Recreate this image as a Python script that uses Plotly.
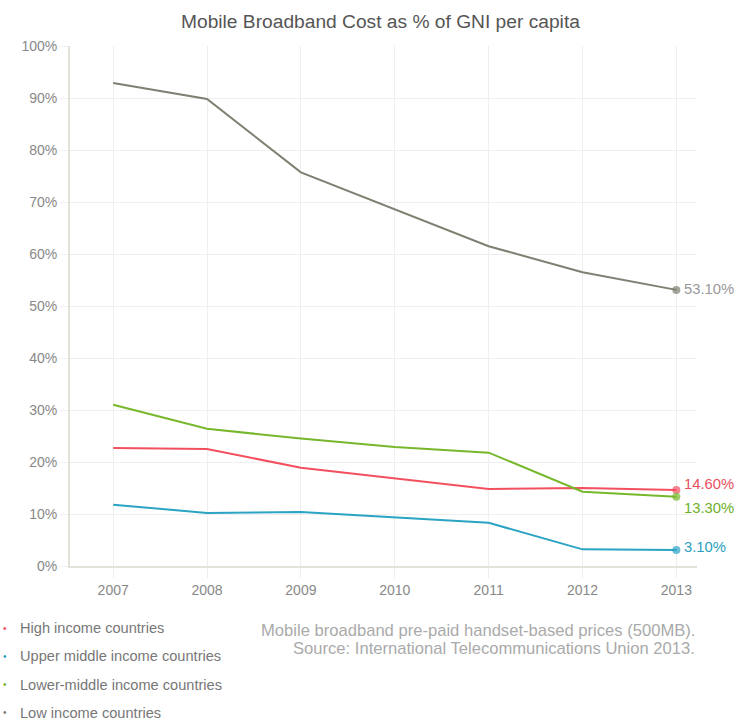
import plotly.graph_objects as go

years = [2007, 2008, 2009, 2010, 2011, 2012, 2013]
series_names = ["High income countries", "Upper middle income countries",
                "Lower-middle income countries", "Low income countries"]
high_income = [22.7, 22.5, 18.9, 16.8, 14.8, 15.0, 14.6]
upper_middle = [11.8, 10.2, 10.4, 9.4, 8.3, 3.2, 3.1]
lower_middle = [31.0, 26.4, 24.5, 22.9, 21.8, 14.3, 13.3]
low_income = [92.9, 89.8, 75.7, 68.6, 61.5, 56.5, 53.1]
end_labels = ["14.60%", "3.10%", "13.30%", "53.10%"]
y_ticks = [0, 10, 20, 30, 40, 50, 60, 70, 80, 90, 100]
title_text = "Mobile Broadband Cost as % of GNI per capita"
source_lines = ["Mobile broadband pre-paid handset-based prices (500MB).",
                "Source: International Telecommunications Union 2013."]

colors = ["#f2505f", "#2ba3c4", "#77b72b", "#7f7f72"]
label_colors = ["#e8505e", "#2a9fc0", "#6fb02a", "#999999"]
label_shift = [6, 3, -11, 1]
values = [high_income, upper_middle, lower_middle, low_income]
FONT = "Liberation Sans, Arial, sans-serif"

fig = go.Figure()
for name, vals, col in zip(series_names, values, colors):
    fig.add_trace(go.Scatter(
        x=years, y=vals, mode="lines+markers", name=name,
        line=dict(color=col, width=2),
        marker=dict(color=col, size=[0] * (len(vals) - 1) + [8], line=dict(width=0)),
        showlegend=False, hoverinfo="x+y", cliponaxis=False))

annotations = []
for vals, lab, lc, ys in zip(values, end_labels, label_colors, label_shift):
    annotations.append(dict(
        x=years[-1], y=vals[-1], xref="x", yref="y", text=lab, showarrow=False,
        xanchor="left", yanchor="middle", xshift=6, yshift=ys,
        font=dict(family=FONT, size=14.8, color=lc)))

# legend as annotations
for i, (name, col) in enumerate(zip(series_names, colors)):
    ypix = 628 + i * 28.3
    annotations.append(dict(
        x=5, y=720 - ypix, xref="paper", yref="paper", text="•", showarrow=False,
        font=dict(family=FONT, size=10, color=col), xanchor="center", yanchor="middle"))
    annotations.append(dict(
        x=18, y=720 - ypix, xref="paper", yref="paper", text=name, showarrow=False,
        font=dict(family=FONT, size=14.6, color="#777777"), xanchor="left", yanchor="middle"))

for i, line in enumerate(source_lines):
    annotations.append(dict(
        x=697, y=720 - (630 + i * 18.5), xref="paper", yref="paper", text=line,
        showarrow=False, xanchor="right", yanchor="middle",
        font=dict(family=FONT, size=16.6, color="#aaaaaa")))

annotations.append(dict(
    x=380, y=720 - 22, xref="paper", yref="paper", text=title_text, showarrow=False,
    xanchor="center", yanchor="middle", font=dict(family=FONT, size=19.2, color="#555555")))

# convert pixel paper coords to fractions
W, H = 738, 720
ml, mr, mt, mb = 70, 41, 46, 154
pw, ph = W - ml - mr, H - mt - mb
for a in annotations:
    if a["xref"] == "paper":
        a["x"] = (a["x"] - ml) / pw
        a["y"] = (a["y"] - mb) / ph

fig.update_layout(
    width=W, height=H,
    margin=dict(l=ml, r=mr, t=mt, b=mb, autoexpand=False),
    paper_bgcolor="white", plot_bgcolor="white",
    font=dict(family=FONT, color="#888888"),
    annotations=annotations,
    xaxis=dict(range=[2006.54, 2013.22], tickvals=years, ticktext=[str(y) for y in years],
               showgrid=True, gridcolor="#efefef", gridwidth=1,
               showline=True, linecolor="#e3e3da", linewidth=2,
               ticks="outside", ticklen=10, tickcolor="#efefef", tickwidth=1,
               tickfont=dict(size=14, color="#888888"), zeroline=False, fixedrange=True),
    yaxis=dict(range=[0, 100], tickvals=y_ticks, ticktext=[f"{v}%" for v in y_ticks],
               showgrid=True, gridcolor="#efefef", gridwidth=1,
               showline=True, linecolor="#e3e3da", linewidth=2,
               ticks="outside", ticklen=8, tickcolor="#efefef", tickwidth=1,
               tickfont=dict(size=14, color="#888888"), zeroline=False, fixedrange=True),
)

fig.write_html("out.html")
